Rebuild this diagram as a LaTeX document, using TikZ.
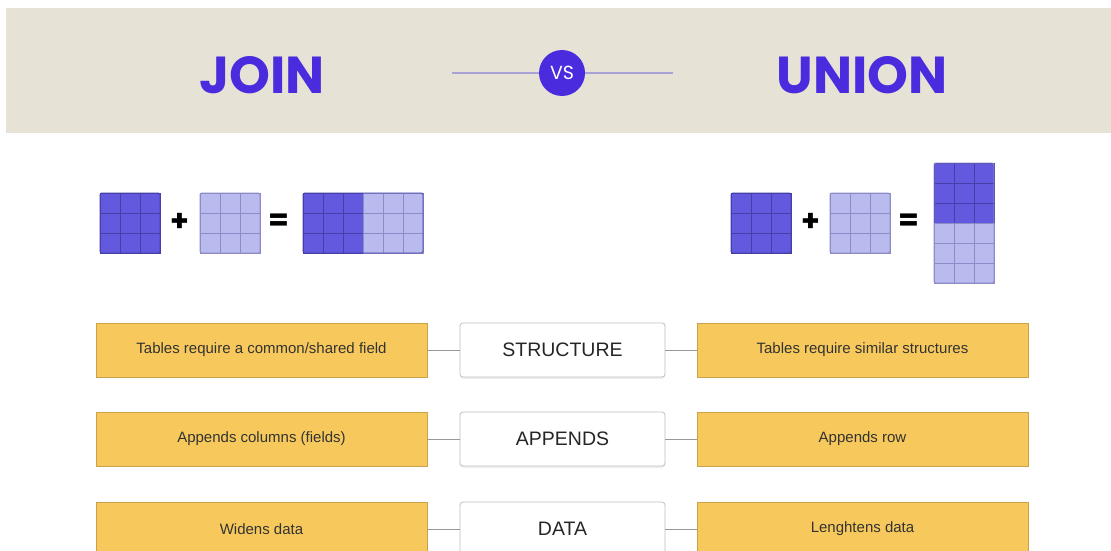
\documentclass[tikz,border=0pt]{standalone}
\usepackage{fontspec}
\usetikzlibrary{shadows}
\setmainfont{Liberation Sans}
\newfontfamily\headfont{Poppins}
\definecolor{band}{HTML}{E7E2D6}
\definecolor{brand}{HTML}{4A2BDE}
\definecolor{vsline}{HTML}{A9A2D6}
\definecolor{dkfill}{HTML}{6259DF}
\definecolor{dkline}{HTML}{4540A8}
\definecolor{ltfill}{HTML}{B9BAEE}
\definecolor{ltline}{HTML}{8E8CC8}
\definecolor{yfill}{HTML}{F7C95C}
\definecolor{yborder}{HTML}{C9A24A}
\definecolor{txt}{HTML}{333333}
\newcommand\tcells[6]{%
  \foreach \c in {0,...,#3}{\foreach \r in {0,...,#4}{%
    \filldraw[fill=#5,draw=#6,line width=0.6pt] ({#1+20*\c},{#2+20*\r}) rectangle ++(20,20);}}}
\tikzset{
  side/.style={draw=yborder, fill=yfill, line width=0.7pt, minimum width=331pt, minimum height=54pt,
    inner sep=0pt, outer sep=0pt, font=\fontsize{15}{18}\selectfont, text=txt},
  mid/.style={draw=black!25, fill=white, line width=0.8pt, rounded corners=3pt, minimum width=205pt,
    minimum height=54pt, inner sep=0pt, outer sep=0pt, font=\fontsize{19.5}{23}\selectfont, text=black!85,
    drop shadow={opacity=0.12, shadow xshift=0pt, shadow yshift=-2pt}},
  link/.style={draw=black!40, line width=0.8pt},
  title/.style={font=\headfont\bfseries\fontsize{52}{60}\selectfont, text=brand, inner sep=0pt},
  sign/.style={font=\headfont\bfseries\fontsize{30}{34}\selectfont, text=black, inner sep=0pt},
  border/.style={rounded corners=1.5pt, line width=0.9pt}
}
\begin{document}
\begin{tikzpicture}[x=1pt,y=-1pt]
\clip (0,0) rectangle (1111,551);
\fill[white] (0,0) rectangle (1111,551);
% header band
\fill[band] (6,8) rectangle (1111,133);
\node[title] (join) at (262,75) {JOIN};
\node[title] (union) at (862,75) {UNION};
\coordinate (vl) at (452,73);
\coordinate (vr) at (673,73);
\node[circle, fill=brand, minimum size=46pt, inner sep=0pt, text=white,
  font=\headfont\fontsize{19}{22}\selectfont] (vs) at (562,73) {VS};
\draw[vsline, line width=1.2pt] (vl) -- (vs);
\draw[vsline, line width=1.2pt] (vs) -- (vr);
% JOIN grids
\tcells{100}{193}{2}{2}{dkfill}{dkline}
\draw[dkline,border] (100,193) rectangle ++(60,60);
\node[sign] (p1) at (180,222) {+};
\tcells{200}{193}{2}{2}{ltfill}{ltline}
\draw[ltline,border] (200,193) rectangle ++(60,60);
\node[sign] (e1) at (279,222) {=};
\tcells{303}{193}{2}{2}{dkfill}{dkline}
\tcells{363}{193}{2}{2}{ltfill}{ltline}
\draw[dkline,border] (303,193) rectangle ++(120,60);
% UNION grids
\tcells{731}{193}{2}{2}{dkfill}{dkline}
\draw[dkline,border] (731,193) rectangle ++(60,60);
\node[sign] (p2) at (811,222) {+};
\tcells{830}{193}{2}{2}{ltfill}{ltline}
\draw[ltline,border] (830,193) rectangle ++(60,60);
\node[sign] (e2) at (909,222) {=};
\tcells{934}{163}{2}{2}{dkfill}{dkline}
\tcells{934}{223}{2}{2}{ltfill}{ltline}
\draw[ltline,border] (934,163) rectangle ++(60,120);
% rows
\node[side] (l1) at (261.5,350) {Tables require a common/shared field};
\node[mid]  (m1) at (562.5,350) {STRUCTURE};
\node[side] (r1) at (862.5,350) {Tables require similar structures};
\node[side] (l2) at (261.5,439) {Appends columns (fields)};
\node[mid]  (m2) at (562.5,439) {APPENDS};
\node[side] (r2) at (862.5,439) {Appends row};
\node[side] (l3) at (261.5,529) {Widens data};
\node[mid]  (m3) at (562.5,529) {DATA};
\node[side] (r3) at (862.5,529) {Lenghtens data};
\foreach \i in {1,2,3}{
  \draw[link] (l\i) -- (m\i);
  \draw[link] (m\i) -- (r\i);
}
\end{tikzpicture}
\end{document}
